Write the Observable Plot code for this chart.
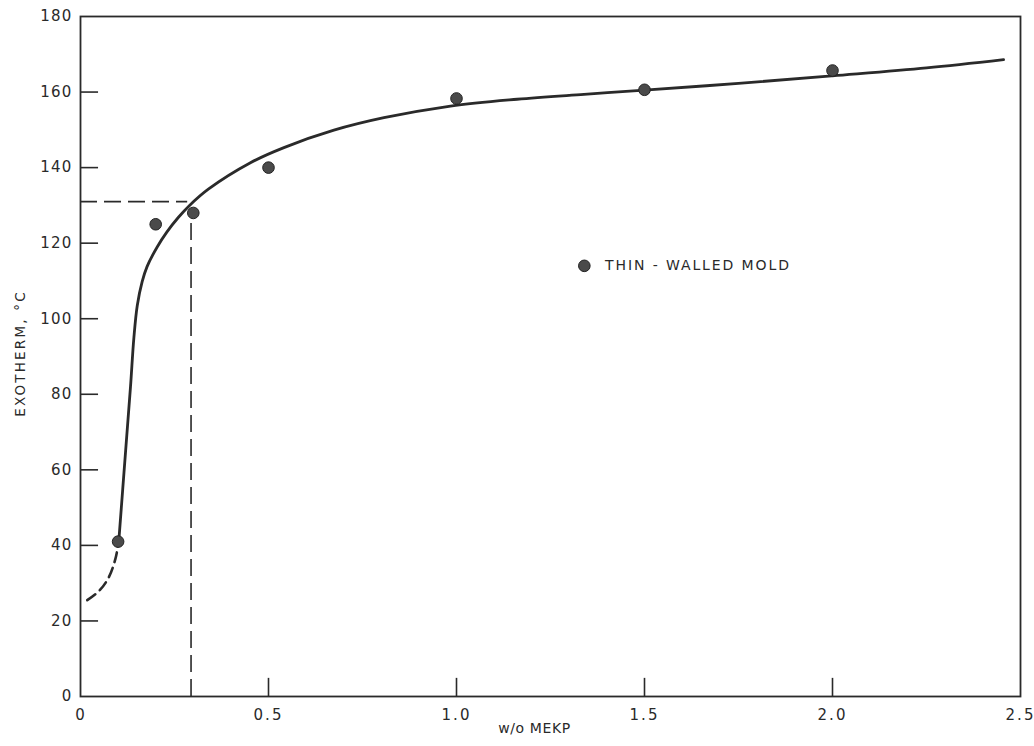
<!DOCTYPE html>
<html>
<head>
<meta charset="utf-8">
<script src="https://cdn.jsdelivr.net/npm/d3@7"></script>
<script src="https://cdn.jsdelivr.net/npm/@observablehq/plot@0.6"></script>
<style>
  html, body { margin: 0; padding: 0; background: #fff; }
  #chart { width: 1034px; height: 746px; }
  svg text { font-family: "DejaVu Sans", sans-serif; }
</style>
</head>
<body>
<div id="chart"></div>
<script>
// Measured data points (w/o MEKP, exotherm °C)
const pointX = [0.1, 0.2, 0.3, 0.5, 1.0, 1.5, 2.0];
const pointY = [41, 125, 128, 140, 158.3, 160.6, 165.7];

// Fitted curve (solid part)
const curveX = [0.102, 0.12, 0.133, 0.142, 0.151, 0.164, 0.177, 0.204, 0.23, 0.26, 0.29, 0.34, 0.452, 0.541, 0.674, 0.807, 0.984, 1.161, 1.339, 1.5, 1.75, 2.0, 2.25, 2.455];
const curveY = [41.3, 65, 82, 95, 103.5, 109.8, 113.8, 119, 123, 126.8, 130, 134.3, 141.3, 145.3, 149.9, 153.2, 156.3, 158.1, 159.4, 160.5, 162.3, 164.3, 166.4, 168.6];

// Extrapolated (dashed) part of the curve
const dashX = [0.018, 0.05, 0.075, 0.093, 0.102];
const dashY = [25.5, 28, 31.5, 36.5, 41.3];

// Reading guide at 0.3 w/o MEKP -> ~131 °C
const guideX = 0.294;
const guideXEnd = 0.285;
const guideY = 131;

const xTicks = [0, 0.5, 1.0, 1.5, 2.0, 2.5];
const xTickLabels = ["0", "0.5", "1.0", "1.5", "2.0", "2.5"];
const yTicks = [0, 20, 40, 60, 80, 100, 120, 140, 160, 180];
const legendLabel = "THIN - WALLED MOLD";
const xTitle = "w/o MEKP";
const yTitle = "EXOTHERM, °C";

const pts = pointX.map((x, i) => ({x, y: pointY[i]}));
const curve = curveX.map((x, i) => ({x, y: curveY[i]}));
const dash = dashX.map((x, i) => ({x, y: dashY[i]}));
const innerX = xTicks.slice(1, -1);
const innerY = yTicks.slice(1, -1);

const ink = "#2a2a2a";

const plot = Plot.plot({
  width: 1034,
  height: 746,
  marginLeft: 80,
  marginRight: 14,
  marginTop: 16,
  marginBottom: 50,
  style: {fontFamily: "DejaVu Sans, sans-serif", color: ink, background: "#fff"},
  x: {domain: [0, 2.5]},
  y: {domain: [0, 180]},
  marks: [
    // guide lines
    Plot.ruleY([guideY], {x1: 0, x2: guideXEnd, stroke: ink, strokeWidth: 1.6, strokeDasharray: "17,7"}),
    Plot.ruleX([guideX], {y1: 0, y2: guideY - 2.5, stroke: ink, strokeWidth: 1.6, strokeDasharray: "17,7"}),
    // inward ticks
    Plot.ruleX(innerX, {y1: 0, y2: 4.8, stroke: ink, strokeWidth: 1.6}),
    Plot.ruleY(innerY, {x1: 0, x2: 0.048, stroke: ink, strokeWidth: 1.6}),
    Plot.frame({stroke: ink, strokeWidth: 1.8}),
    // tick labels
    Plot.axisX(xTicks, {tickSize: 0, tickPadding: 13, tickFormat: d => xTickLabels[xTicks.indexOf(d)], fontSize: 15, label: null}),
    Plot.axisY(yTicks, {tickSize: 0, tickPadding: 8, fontSize: 15, label: null}),
    // curves
    Plot.line(dash, {x: "x", y: "y", curve: "catmull-rom", stroke: ink, strokeWidth: 2.6, strokeDasharray: "10,6"}),
    Plot.line(curve, {x: "x", y: "y", curve: "catmull-rom", stroke: ink, strokeWidth: 2.8}),
    // data points
    Plot.dot(pts, {x: "x", y: "y", r: 5.8, fill: "#4a4a4a", stroke: "#222", strokeWidth: 1}),
    // legend
    Plot.dot([0], {x: 1.34, y: 114, r: 5.8, fill: "#4a4a4a", stroke: "#222", strokeWidth: 1}),
    Plot.text([legendLabel], {x: 1.395, y: 114, text: d => d, textAnchor: "start", fontSize: 14, fill: ink}),
    // axis titles
    Plot.text([xTitle], {frameAnchor: "bottom", textAnchor: "middle", dy: 36, dx: -16, text: d => d, fontSize: 14, fill: ink}),
    Plot.text([yTitle], {frameAnchor: "left", textAnchor: "middle", dx: -60, dy: -3, rotate: -90, text: d => d, fontSize: 13.5, fill: ink})
  ]
});
document.getElementById("chart").appendChild(plot);

// letter spacing to mimic the drafted lettering
const yLabels = yTicks.map(String);
d3.select(plot).selectAll("text").each(function() {
  const t = this.textContent;
  const s = d3.select(this);
  if (t === legendLabel) s.style("letter-spacing", "1.9px");
  else if (t === yTitle) s.style("letter-spacing", "2.2px");
  else if (t === xTitle) s.style("letter-spacing", "0.6px");
  else if (yLabels.includes(t)) s.style("letter-spacing", "1.2px");
  else if (xTickLabels.includes(t)) s.style("letter-spacing", "2px");
});
</script>
</body>
</html>
